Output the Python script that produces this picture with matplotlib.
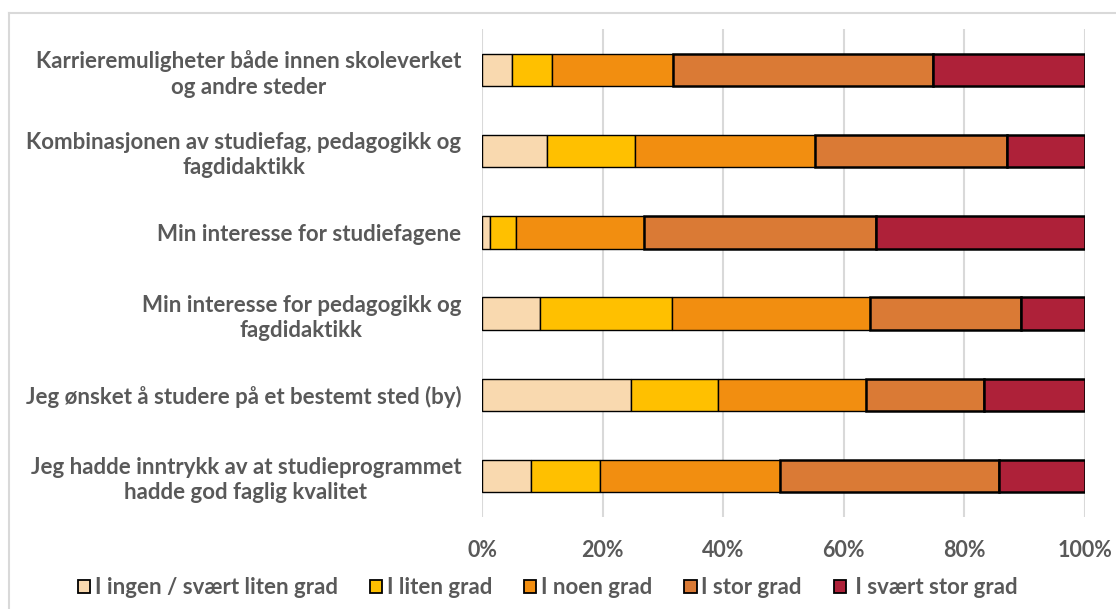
import matplotlib
matplotlib.use("Agg")
import matplotlib.pyplot as plt
from matplotlib.lines import Line2D
import numpy as np

plt.rcParams['font.family'] = ['Lato', 'DejaVu Sans']

categories = [
    "Karrieremuligheter både innen skoleverket\nog andre steder",
    "Kombinasjonen av studiefag, pedagogikk og\nfagdidaktikk",
    "Min interesse for studiefagene",
    "Min interesse for pedagogikk og\nfagdidaktikk",
    "Jeg ønsket å studere på et bestemt sted (by)",
    "Jeg hadde inntrykk av at studieprogrammet\nhadde god faglig kvalitet",
]
series_names = ["I ingen / svært liten grad", "I liten grad", "I noen grad",
                "I stor grad", "I svært stor grad"]
ingen = [4.9, 10.8, 1.4, 9.6, 24.7, 8.2]
liten = [6.7, 14.5, 4.2, 21.9, 14.4, 11.3]
noen = [20.1, 30.0, 21.2, 32.8, 24.5, 30.0]
stor = [43.1, 31.8, 38.6, 25.1, 19.7, 36.3]
svaert = [25.2, 12.9, 34.6, 10.6, 16.7, 14.2]
tick_labels = ["0%", "20%", "40%", "60%", "80%", "100%"]

colors = ["#F9D9AF", "#FFC000", "#F28E10", "#DA7A35", "#AE2139"]
lws = [1.0, 1.0, 1.0, 1.8, 1.8]
txt = "#595959"
fs = 16

fig = plt.figure(figsize=(11.16, 6.09), dpi=100)
ax = fig.add_axes([482/1116, 1-516.6/609, (1085-482)/1116, (516.6-29.4)/609])

data = [ingen, liten, noen, stor, svaert]
y = np.arange(len(categories))
left = np.zeros(len(categories))
for vals, c, lw, name in zip(data, colors, lws, series_names):
    ax.barh(y, vals, left=left, height=0.4, color=c, edgecolor="black",
            linewidth=lw, label=name, zorder=3)
    left += np.array(vals)

ax.set_xlim(0, 100)
ax.set_ylim(len(categories) - 0.5, -0.5)
ax.set_xticks([0, 20, 40, 60, 80, 100])
ax.set_xticklabels(tick_labels)
ax.set_yticks(y)
ax.set_yticklabels(categories, multialignment="center", linespacing=1.25)
for lab in ax.get_yticklabels():
    lab.set_fontsize(fs)
    lab.set_fontweight("bold")
    lab.set_color(txt)
for lab in ax.get_xticklabels():
    lab.set_fontsize(15.5)
    lab.set_fontweight("bold")
    lab.set_color(txt)
ax.tick_params(axis="both", length=0)
ax.tick_params(axis="y", pad=15)
ax.tick_params(axis="x", pad=17)
ax.grid(axis="x", color="#D9D9D9", linewidth=1.5, zorder=0)
for s in ax.spines.values():
    s.set_visible(False)

handles = [plt.Rectangle((0, 0), 1, 1, facecolor=c, edgecolor="black", linewidth=1.3)
           for c in colors]
leg_labels = series_names[:-1] + [" " + series_names[-1]]
leg = fig.legend(handles, leg_labels, loc="center", bbox_to_anchor=(548/1116, 1-588/609),
                 ncol=5, frameon=False, handlelength=0.55, handleheight=0.55,
                 handletextpad=0.2, columnspacing=1.45,
                 prop={"size": fs, "weight": "bold"})
for t in leg.get_texts():
    t.set_color(txt)

# chart-area border (left and top visible)
fig.add_artist(Line2D([8.5/1116, 8.5/1116], [0, 1-13/609], transform=fig.transFigure,
                      color="#D9D9D9", linewidth=1.5))
fig.add_artist(Line2D([8.5/1116, 1], [1-13/609, 1-13/609], transform=fig.transFigure,
                      color="#D9D9D9", linewidth=1.5))

fig.savefig("out.png", dpi=100)
